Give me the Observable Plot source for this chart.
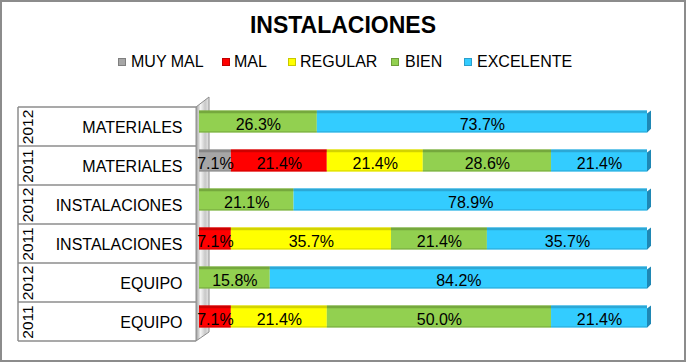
<!DOCTYPE html>
<html><head><meta charset="utf-8">
<script src="https://cdn.jsdelivr.net/npm/d3@7"></script>
<script src="https://cdn.jsdelivr.net/npm/@observablehq/plot@0.6"></script>
<style>
body{margin:0;background:#fff;font-family:"Liberation Sans",Arial,sans-serif;}
#wrap{position:relative;width:686px;height:362px;overflow:hidden;}
#frame{position:absolute;left:0;top:0;width:682px;height:358px;border:2px solid #8c8c8c;box-sizing:content-box;pointer-events:none;}
#title{position:absolute;left:0;width:686px;top:10px;text-align:center;font-weight:bold;font-size:23px;line-height:30px;color:#000;}
.leg{position:absolute;top:53px;font-size:16px;line-height:18px;color:#000;white-space:nowrap;}
.sw{position:absolute;top:58px;width:8px;height:8px;box-sizing:border-box;}
#chart{position:absolute;left:0;top:0;}
</style></head>
<body>
<div id="wrap">
  <div id="chart"></div>
  <div id="title">INSTALACIONES</div>
  <div id="legend"></div>
  <div id="frame"></div>
</div>
<script>
// ---- data ----
const categories = ["MATERIALES","MATERIALES","INSTALACIONES","INSTALACIONES","EQUIPO","EQUIPO"];
const years = ["2012","2011","2012","2011","2012","2011"];
const series = ["MUY MAL","MAL","REGULAR","BIEN","EXCELENTE"];
const muyMal    = [0, 7.1, 0, 0, 0, 0];
const mal       = [0, 21.4, 0, 7.1, 0, 7.1];
const regular   = [0, 21.4, 0, 35.7, 0, 21.4];
const bien      = [26.3, 28.6, 21.1, 21.4, 15.8, 50.0];
const excelente = [73.7, 21.4, 78.9, 35.7, 84.2, 21.4];

const colors = ["#a6a6a6","#ff0000","#ffff00","#92d050","#33ccff"];
const darkColors = ["#7f7f7f","#c00000","#c8c800","#6e9e38","#2a9fcc"];

const valuesBySeries = [muyMal, mal, regular, bien, excelente];
const keys = categories.map((c,i)=>`${years[i]}|${c}|${i}`);
const rows = keys.map((k,i)=>({key:k, year:years[i], cat:categories[i]}));
const data = [];
keys.forEach((k,i)=>{
  series.forEach((s,j)=>{
    const v = valuesBySeries[j][i];
    if (v > 0) data.push({key:k, series:s, value:v, si:j});
  });
});

// ---- layout ----
const W = 686, H = 362;
const plotTop = 106.5, plotBottom = 342;
const bw = (plotBottom - plotTop) / keys.length;
const barTop = 3.5, barBottom = 13.5;

const stackOpts = {x:"value", y:"key", offset:"normalize"};
const plot = Plot.plot({
  width: W, height: H,
  marginTop: plotTop, marginBottom: H - plotBottom, marginLeft: 199, marginRight: 39,
  style: {background:"transparent", fontFamily:"'Liberation Sans', Arial, sans-serif"},
  x: {domain:[0,1], axis:null},
  y: {domain: keys, axis:null, padding:0},
  color: {domain: series, range: colors},
  marks: [
    Plot.barX(data, Plot.stackX({...stackOpts, fill:"series", insetTop:barTop, insetBottom:barBottom})),
    Plot.barX(data, Plot.stackX({...stackOpts, fill:d=>darkColors[d.si], fillOpacity:0.8, insetTop:barTop, insetBottom:bw-barTop-3})),
    Plot.barX(data, Plot.stackX({...stackOpts, fill:d=>darkColors[d.si], fillOpacity:0.6, insetTop:bw-barBottom-1.5, insetBottom:barBottom})),
    Plot.text(data, Plot.stackX({...stackOpts, text:d=>d.value.toFixed(1)+"%", dy:-2, fontSize:16, fill:"#000"})),
    Plot.text(rows, {y:"key", text:"cat", frameAnchor:"left", textAnchor:"end", dx:-17, dy:1, fontSize:16, fill:"#000"}),
    Plot.text(rows, {y:"key", text:"year", frameAnchor:"left", textAnchor:"middle", dx:-171, rotate:-90, fontSize:15.5, fill:"#000"})
  ]
});
document.getElementById("chart").appendChild(plot);

// ---- decorations using Plot's scales ----
const xs = plot.scale("x"), ys = plot.scale("y");
const svg = d3.select(plot);
const defs = svg.insert("defs", ":first-child");
const g = defs.append("linearGradient").attr("id","wallg").attr("x1","0").attr("x2","1").attr("y1","0").attr("y2","0");
g.append("stop").attr("offset","0%").attr("stop-color","#9a9a9a");
g.append("stop").attr("offset","35%").attr("stop-color","#f4f4f4");
g.append("stop").attr("offset","70%").attr("stop-color","#c8c8c8");
g.append("stop").attr("offset","100%").attr("stop-color","#e6e6e6");

const deco = svg.insert("g", "g");
const y0 = ys.apply(keys[0]), yN = ys.apply(keys[keys.length-1]) + ys.bandwidth;
// wall
deco.append("polygon")
  .attr("points", `196,${y0} 209,${y0-10} 209,${yN-9} 196,${yN}`)
  .attr("fill","url(#wallg)").attr("stroke","#8c8c8c").attr("stroke-width",1);
// table lines
const tbl = deco.append("g").attr("stroke","#8c8c8c").attr("stroke-width",1.5);
tbl.append("line").attr("x1",18).attr("x2",18).attr("y1",y0).attr("y2",yN);
keys.forEach(k=>{
  const yy = ys.apply(k);
  tbl.append("line").attr("x1",18).attr("x2",196).attr("y1",yy).attr("y2",yy);
});
tbl.append("line").attr("x1",18).attr("x2",196).attr("y1",yN).attr("y2",yN);

// end caps of bars
const xEnd = xs.apply(1);
const caps = svg.append("g");
keys.forEach(k=>{
  const t = ys.apply(k) + barTop, b = ys.apply(k) + bw - barBottom;
  caps.append("polygon")
    .attr("points", `${xEnd},${t+3} ${xEnd+4},${t} ${xEnd+4},${b-4} ${xEnd},${b}`)
    .attr("fill","#1f87b4");
});

// ---- legend ----
const leg = document.getElementById("legend");
const legSw = [118, 222, 288, 391, 464];
const legTx = [131, 234, 300, 405, 477];
series.forEach((s,i)=>{
  const sw = document.createElement("div");
  sw.className = "sw";
  sw.style.left = legSw[i] + "px";
  sw.style.background = colors[i];
  sw.style.border = "1px solid " + darkColors[i];
  leg.appendChild(sw);
  const t = document.createElement("div");
  t.className = "leg";
  t.style.left = legTx[i] + "px";
  t.textContent = s;
  leg.appendChild(t);
});
</script>
</body></html>
